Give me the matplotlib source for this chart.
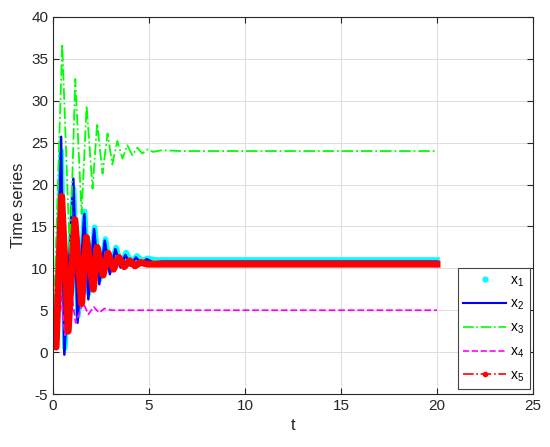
"""Time series of the five state variables x1..x5."""

import matplotlib
matplotlib.use("Agg")
import matplotlib.pyplot as plt
from matplotlib.lines import Line2D

# values (extrema + settled levels)
t1 = [0, 0.15, 0.43, 0.62, 1.08, 1.30, 1.65, 1.86, 2.17, 2.44, 2.73, 2.99,
      3.28, 3.54, 3.81, 4.09, 4.37, 4.65, 4.93, 5.31, 5.68, 20]
x1 = [1, 0.8, 24.0, 0.5, 19.5, 4.3, 16.8, 7.0, 14.9, 8.7, 13.5, 9.8,
      12.5, 10.5, 11.9, 10.7, 11.5, 10.9, 11.2, 11.0, 11.0, 11.0]

t2 = [0, 0.15, 0.42, 0.59, 1.06, 1.28, 1.63, 1.84, 2.14, 2.41, 2.70, 2.96,
      3.25, 3.52, 3.77, 4.04, 4.32, 4.60, 4.88, 5.21, 5.68, 20]
x2 = [1, 0.6, 25.7, -0.3, 20.7, 3.5, 16.5, 6.3, 14.7, 8.1, 13.3, 9.3,
      12.3, 10.1, 11.6, 10.3, 11.3, 10.5, 11.1, 10.7, 10.8, 10.8]

t3 = [0, 0.48, 0.88, 1.16, 1.49, 1.75, 2.06, 2.30, 2.58, 2.84, 3.09, 3.35,
      3.62, 3.87, 4.13, 4.39, 4.65, 4.93, 5.21, 5.68, 6.62, 20]
x3 = [1, 36.8, 11.3, 32.6, 16.5, 29.4, 19.5, 27.3, 21.3, 26.1, 22.4, 25.2,
      23.1, 24.7, 23.5, 24.4, 23.7, 24.2, 23.9, 24.1, 24.0, 24.0]

t4 = [0, 0.33, 0.62, 0.90, 1.18, 1.57, 1.84, 2.12, 2.40, 2.68, 3.05, 20]
x4 = [1, 9.0, 2.0, 8.0, 3.5, 5.9, 4.5, 5.4, 4.7, 5.2, 5.0, 5.0]

t5 = [0, 0.16, 0.45, 0.79, 1.14, 1.49, 1.74, 2.10, 2.30, 2.61, 2.87, 3.15,
      3.43, 3.71, 3.99, 4.27, 4.56, 4.93, 5.68, 20]
x5 = [1, 0.6, 18.6, 2.5, 15.8, 5.8, 13.7, 7.5, 12.5, 9.2, 11.8, 9.9,
      11.3, 10.2, 10.9, 10.3, 10.7, 10.5, 10.5, 10.5]

labels = ["x$_1$", "x$_2$", "x$_3$", "x$_4$", "x$_5$"]


def main():
    plt.rcParams["font.family"] = ["Liberation Sans", "DejaVu Sans"]
    plt.rcParams["mathtext.fontset"] = "custom"
    plt.rcParams["mathtext.rm"] = "Liberation Sans"
    plt.rcParams["mathtext.it"] = "Liberation Sans"
    plt.rcParams["axes.unicode_minus"] = False

    fig = plt.figure(figsize=(5.5, 4.47), dpi=100)
    ax = fig.add_axes([53 / 550, 53 / 447, 480 / 550, 377 / 447])

    # x1 drawn as dense dots -> thick cyan band
    ax.plot(t1, x1, color="cyan", lw=4.0, solid_joinstyle="round")
    ax.plot(t2, x2, color="#0000ff", lw=1.8)
    ax.plot(t3, x3, color="#00ff00", lw=1.3, ls="-.")
    ax.plot(t4, x4, color="#ff00ff", lw=1.3, ls="--")
    # x5 has markers on every sample -> thick red trace
    ax.plot(t5, x5, color="#ff0000", lw=5.0, solid_joinstyle="round")

    handles = [
        Line2D([], [], color="cyan", ls="none", marker=".", ms=7),
        Line2D([], [], color="#0000ff", lw=1.5),
        Line2D([], [], color="#00ff00", lw=1.2, ls="-."),
        Line2D([], [], color="#ff00ff", lw=1.2, ls="--"),
        Line2D([], [], color="#ff0000", lw=1.2, ls="-.", marker=".", ms=6,
               markevery=[1]),
    ]
    leg = ax.legend(handles, labels, loc="lower right",
                    bbox_to_anchor=(0.994, 0.013), borderaxespad=0.0,
                    fancybox=False, framealpha=1, edgecolor="#444444",
                    fontsize=10, handlelength=3.1, handletextpad=0.3,
                    borderpad=0.4, labelspacing=0.6)
    leg.get_frame().set_linewidth(0.8)

    ax.set_xlim(0, 25)
    ax.set_ylim(-5, 40)
    ax.set_xticks(range(0, 26, 5))
    ax.set_yticks(range(-5, 41, 5))
    ax.grid(True, color="#dddddd", lw=0.7)
    ax.set_axisbelow(True)
    ax.tick_params(direction="in", top=True, right=True, labelsize=11,
                   colors="#262626", length=4)
    for s in ax.spines.values():
        s.set_color("#262626")
        s.set_linewidth(0.8)
    ax.set_xlabel("t", fontsize=12, color="#262626")
    ax.set_ylabel("Time series", fontsize=12, color="#262626")

    fig.savefig("out.png", dpi=100)


if __name__ == "__main__":
    main()
